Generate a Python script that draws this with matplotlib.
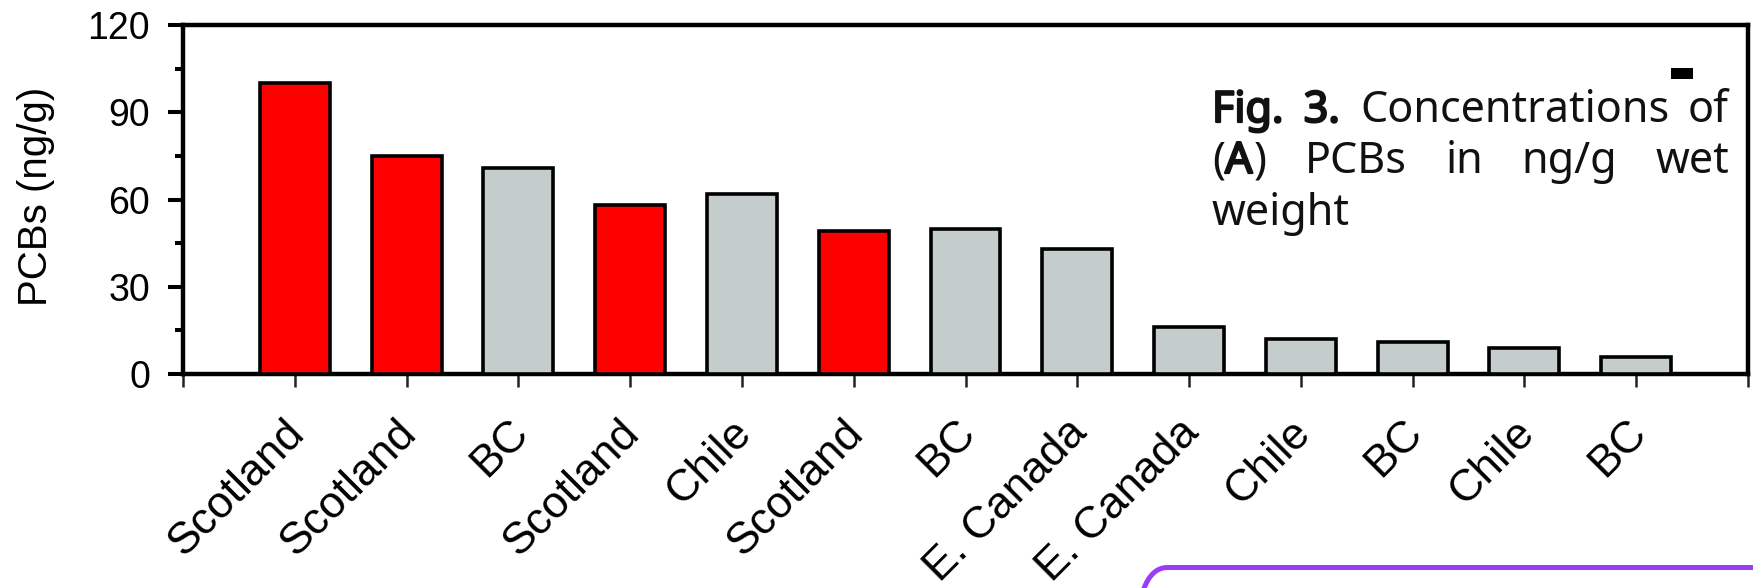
import matplotlib
matplotlib.use("Agg")
import matplotlib.pyplot as plt
import matplotlib.transforms as mtransforms
import matplotlib.patheffects as pe
from matplotlib.patches import FancyBboxPatch, Rectangle
from matplotlib.ticker import MultipleLocator

# ---- data -------------------------------------------------------------
regions = ["Scotland", "Scotland", "BC", "Scotland", "Chile", "Scotland",
           "BC", "E. Canada", "E. Canada", "Chile", "BC", "Chile", "BC"]
pcb_values = [100, 75, 71, 58, 62, 49, 50, 43, 16, 12, 11, 9, 6]
y_ticks = [0, 30, 60, 90, 120]
y_label = "PCBs (ng/g)"

RED = "#ff0000"
GREY = "#c4cccc"
colors = [RED if r == "Scotland" else GREY for r in regions]

# ---- figure -----------------------------------------------------------
W, H, DPI = 1753, 588, 100
plt.rcParams["font.family"] = ["Liberation Sans", "DejaVu Sans"]
fig = plt.figure(figsize=(W / DPI, H / DPI), dpi=DPI)
fig.patch.set_facecolor("white")

ax = fig.add_axes([183 / W, 1 - 374 / H, (1748 - 183) / W, (374 - 25) / H])
positions = list(range(1, len(pcb_values) + 1))
ax.bar(positions, pcb_values, width=0.625, color=colors,
       edgecolor="black", linewidth=2.6, zorder=3)

ax.set_xlim(0, len(pcb_values) + 1)
ax.set_ylim(0, 120)
for s in ax.spines.values():
    s.set_linewidth(3.2)
    s.set_color("black")

# y axis
ax.set_yticks(y_ticks)
ax.yaxis.set_minor_locator(MultipleLocator(15))
ax.tick_params(axis="y", which="major", direction="out", length=10.8,
               width=2.9, pad=13, labelsize=27)
ax.tick_params(axis="y", which="minor", direction="out", length=5.8, width=2.9)

# x axis: ticks at every slot including the ends, labels only under bars
ax.set_xticks(range(0, len(pcb_values) + 2))
ax.set_xticklabels([""] + regions + [""], rotation=45, ha="right", va="top",
                   fontsize=32)
ax.tick_params(axis="x", which="major", direction="out", length=9,
               width=1.8, pad=18, color="#222222")
shift = mtransforms.ScaledTranslation(18 / DPI, 0, fig.dpi_scale_trans)
for lab in ax.get_xticklabels():
    lab.set_transform(lab.get_transform() + shift)

fig.text(36 / W, 1 - 196 / H, y_label, rotation=90, ha="center",
         va="center", fontsize=29)

# ---- overlay in pixel coordinates: caption and frame -----------------
over = fig.add_axes([0, 0, 1, 1])
over.set_xlim(0, W)
over.set_ylim(H, 0)
over.axis("off")

renderer = fig.canvas.get_renderer()
CAP_FS = 31
CAP_FONT = ["Noto Sans", "DejaVu Sans"]
CAP_COLOR = "#111111"
BOLD = [pe.withStroke(linewidth=1.6, foreground=CAP_COLOR)]


def place_line(words, x0, x1, baseline, justify=True):
    """Lay out a caption line; each word is a list of (text, bold) runs."""
    built = []
    widths = []
    for word in words:
        runs = []
        w_total = 0.0
        for txt, bold in word:
            t = over.text(0, baseline, txt, fontsize=CAP_FS, family=CAP_FONT,
                          va="baseline", ha="left", color=CAP_COLOR)
            bb = t.get_window_extent(renderer)
            extra = 1.5 if bold else 0.0
            if bold:
                t.set_path_effects(BOLD)
            runs.append((t, bb.width + extra))
            w_total += bb.width + extra
        built.append(runs)
        widths.append(w_total)
    if justify and len(words) > 1:
        gap = (x1 - x0 - sum(widths)) / (len(words) - 1)
    else:
        gap = CAP_FS * 0.3
    x = x0
    for runs, wsum in zip(built, widths):
        xx = x
        for t, wd in runs:
            t.set_x(xx)
            xx += wd
        x += wsum + gap


cx0, cx1 = 1212, 1729
place_line([[("Fig.", True)], [("3.", True)],
            [("Concentrations", False)], [("of", False)]],
           cx0, cx1, 122)
place_line([[("(", False), ("A", True), (")", False)],
            [("PCBs", False)], [("in", False)], [("ng/g", False)],
            [("wet", False)]], cx0, cx1, 173)
place_line([[("weight", False)]], cx0, cx1, 225, justify=False)

over.add_patch(Rectangle((1671, 68), 22, 11, color="black", lw=0))
over.add_patch(FancyBboxPatch((1135.5, 567.5), 800, 120,
                              boxstyle="round,pad=0,rounding_size=32",
                              facecolor="none", edgecolor="#9b3cf6",
                              linewidth=3.6, clip_on=False))

fig.savefig("out.png", dpi=DPI, facecolor="white")
